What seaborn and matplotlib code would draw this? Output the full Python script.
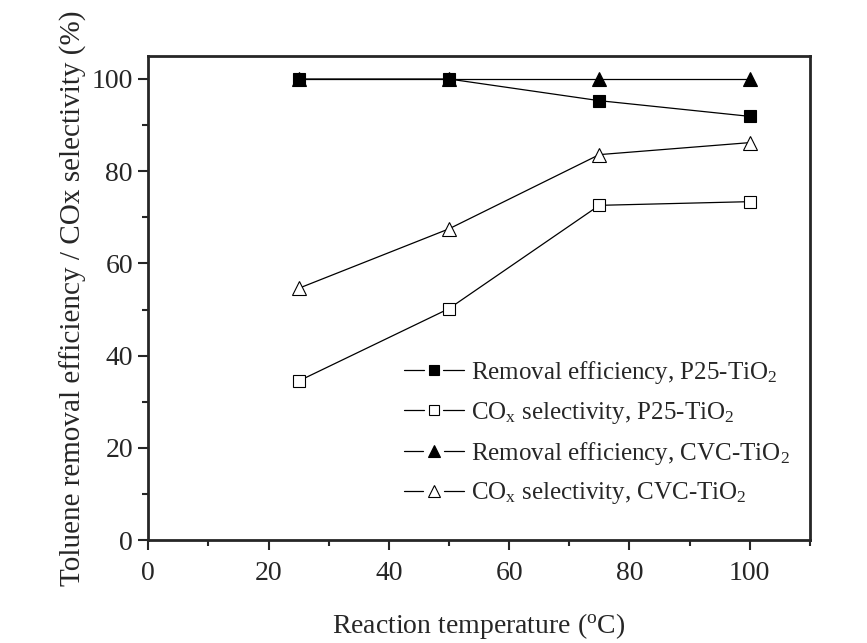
import matplotlib
matplotlib.use("Agg")
import matplotlib.pyplot as plt
from matplotlib.legend_handler import HandlerLine2D
from matplotlib.lines import Line2D
from matplotlib.ticker import MultipleLocator
import pandas as pd
import seaborn as sns

temperature = [25, 50, 75, 100]
removal_p25 = [100, 100, 95.3, 91.9]
cox_p25 = [34.5, 50.2, 72.6, 73.4]
removal_cvc = [100, 100, 100, 100]
cox_cvc = [54.6, 67.5, 83.6, 86.2]

labels = [
    r"Removal efficiency, P25-TiO$_2$",
    r"CO$_\mathrm{x}$ selectivity, P25-TiO$_2$",
    r"Removal efficiency, CVC-TiO$_2$",
    r"CO$_\mathrm{x}$ selectivity, CVC-TiO$_2$",
]
series = [removal_p25, cox_p25, removal_cvc, cox_cvc]
markers = ["s", "s", "^", "^"]
faces = ["black", "white", "black", "white"]
sizes = [9, 9, 10, 10]


class GapHandler(HandlerLine2D):
    # line - marker - line, with a small gap either side of the marker
    def create_artists(self, legend, orig_handle, xdescent, ydescent,
                       width, height, fontsize, trans):
        y = height / 2 - ydescent
        mid = width / 2 - xdescent
        gap = orig_handle.get_markersize() / 2 + 2.5
        kw = dict(color="black", lw=0.9, transform=trans)
        l1 = Line2D([-xdescent, mid - gap], [y, y], **kw)
        l2 = Line2D([mid + gap, width - xdescent], [y, y], **kw)
        mk = Line2D([mid], [y], ls="none", marker=orig_handle.get_marker(),
                    markersize=orig_handle.get_markersize() * 0.85,
                    markerfacecolor=orig_handle.get_markerfacecolor(),
                    markeredgecolor="black", markeredgewidth=0.8,
                    transform=trans)
        return [l1, l2, mk]


sns.set_style("ticks")
plt.rcParams["font.family"] = ["Liberation Serif", "DejaVu Serif"]
plt.rcParams["mathtext.fontset"] = "custom"
plt.rcParams["mathtext.rm"] = "Liberation Serif"
plt.rcParams["mathtext.it"] = "Liberation Serif:italic"

fig = plt.figure(figsize=(8.67, 6.43), dpi=100)
ax = fig.add_axes([0.171, 0.160, 0.763, 0.753])

for vals, lab, m, fc, ms in zip(series, labels, markers, faces, sizes):
    df = pd.DataFrame({"T": temperature, "v": vals})
    sns.lineplot(data=df, x="T", y="v", ax=ax, color="black", lw=0.9,
                 marker=m, markersize=ms, markerfacecolor=fc,
                 markeredgecolor="black", markeredgewidth=0.8, label=lab)

ax.set_xlim(0, 110)
ax.set_ylim(0, 105)
ax.xaxis.set_major_locator(MultipleLocator(20))
ax.xaxis.set_minor_locator(MultipleLocator(10))
ax.yaxis.set_major_locator(MultipleLocator(20))
ax.yaxis.set_minor_locator(MultipleLocator(10))
ax.tick_params(which="major", length=7, width=1.5, labelsize=20, direction="out", pad=4)
ax.tick_params(axis="x", which="major", pad=8)
ax.tick_params(which="minor", length=4, width=1.5, direction="out")
for sp in ax.spines.values():
    sp.set_linewidth(2)
    sp.set_visible(True)

ax.set_xlabel(r"Reaction temperature ($^\mathrm{o}$C)", fontsize=20, labelpad=18)
ax.set_ylabel("Toluene removal efficiency / COx selectivity (%)", fontsize=21, labelpad=3)

handles, _ = ax.get_legend_handles_labels()
ax.legend(handles, labels, loc="upper left", bbox_to_anchor=(0.386, 0.374),
          frameon=False, fontsize=18, labelspacing=0.55, handlelength=2.4,
          handletextpad=0.3, borderpad=0, borderaxespad=0,
          handler_map={Line2D: GapHandler()})

fig.savefig("out.png", dpi=100)
